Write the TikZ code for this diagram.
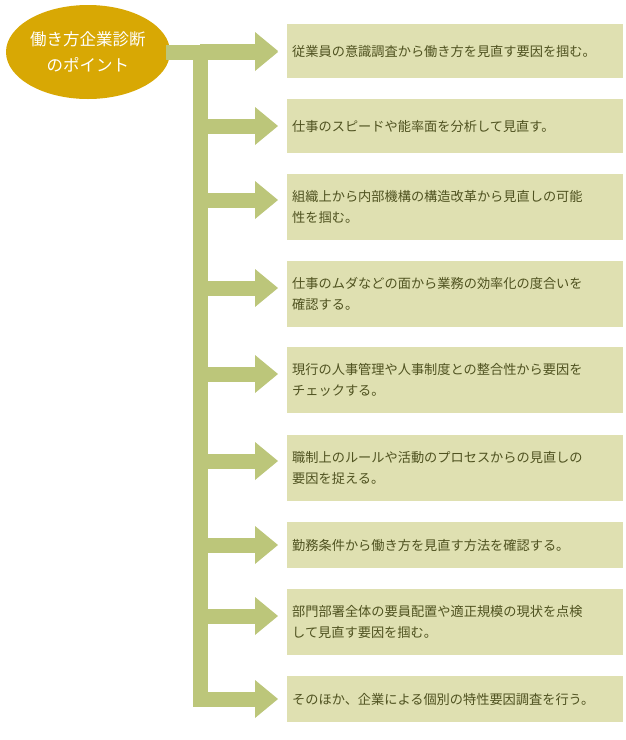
\documentclass[tikz,border=0pt]{standalone}
\usepackage{fontspec}
\usetikzlibrary{shapes.geometric}
\newfontfamily\jp{Noto Sans CJK JP}
\definecolor{bar}{HTML}{BCC67A}
\definecolor{boxc}{HTML}{DFE0B1}
\definecolor{ell}{HTML}{D8A804}
\definecolor{txt}{HTML}{4F5220}
\begin{document}
\begin{tikzpicture}[x=1pt,y=-1pt,
  item/.style={fill=boxc,minimum width=336pt,text width=326pt,inner xsep=5pt,align=left,anchor=west,font=\jp\fontsize{13.2}{21}\selectfont,text=txt}]
\useasboundingbox (0,0) rectangle (625,740);
\node[ellipse,fill=ell,minimum width=164pt,minimum height=94pt,inner sep=0pt,align=center,text=white,font=\jp\fontsize{16.5}{26}\selectfont] (e) at (88,52) {働き方企業診断\\のポイント};
\node[item,minimum height=54pt] (b1) at (287,51) {従業員の意識調査から働き方を見直す要因を掴む。};
\node[item,minimum height=54pt] (b2) at (287,126) {仕事のスピードや能率面を分析して見直す。};
\node[item,minimum height=66pt] (b3) at (287,207) {組織上から内部機構の構造改革から見直しの可能\\性を掴む。};
\node[item,minimum height=66pt] (b4) at (287,294) {仕事のムダなどの面から業務の効率化の度合いを\\確認する。};
\node[item,minimum height=66pt] (b5) at (287,380) {現行の人事管理や人事制度との整合性から要因を\\チェックする。};
\node[item,minimum height=66pt] (b6) at (287,468) {職制上のルールや活動のプロセスからの見直しの\\要因を捉える。};
\node[item,minimum height=46pt] (b7) at (287,545) {勤務条件から働き方を見直す方法を確認する。};
\node[item,minimum height=66pt] (b8) at (287,622) {部門部署全体の要員配置や適正規模の現状を点検\\して見直す要因を掴む。};
\node[item,minimum height=46pt] (b9) at (287,699) {そのほか、企業による個別の特性要因調査を行う。};
\fill[bar] (166,45) rectangle (256,60);
\fill[bar] (193,45) rectangle (208,707);
\foreach \y in {51,126,200,288,374,461,545,616,699}{
  \fill[bar] (200,\y-7.5) rectangle (256,\y+7.5);
  \fill[bar] (255,\y-19) -- (278,\y) -- (255,\y+19) -- cycle;
}
\fill[bar] (255,33) -- (278,52) -- (255,71) -- cycle;
\end{tikzpicture}
\end{document}
